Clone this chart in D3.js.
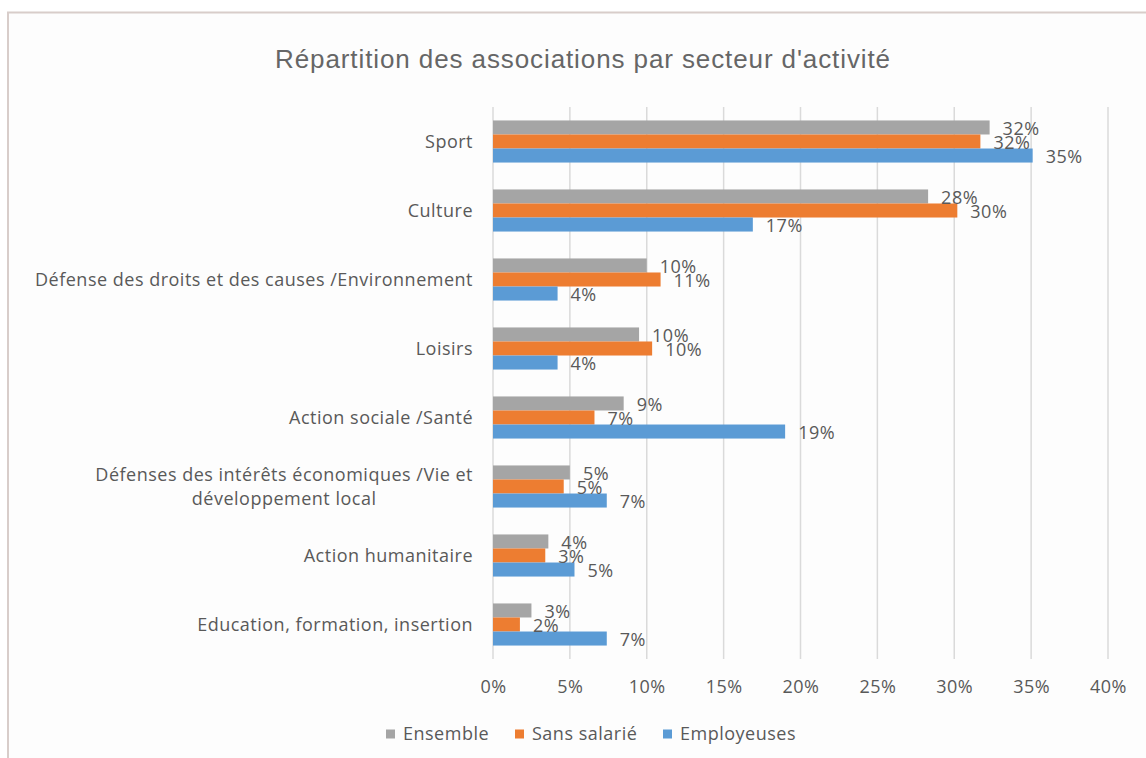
<!DOCTYPE html>
<html>
<head>
<meta charset="utf-8">
<script src="https://cdn.jsdelivr.net/npm/d3@7"></script>
<style>
  html, body { margin: 0; padding: 0; background: #ffffff; }
  svg text { fill: #595959; }
</style>
</head>
<body>
<div id="chart"></div>
<script>
// data
var categories = [
  "Sport",
  "Culture",
  "Défense des droits et des causes /Environnement",
  "Loisirs",
  "Action sociale /Santé",
  "Défenses des intérêts économiques /Vie et\ndéveloppement local",
  "Action humanitaire",
  "Education, formation, insertion"
];
var seriesNames = ["Ensemble", "Sans salarié", "Employeuses"];
var ensemble    = [32.3, 28.3, 10.0, 9.5, 8.5, 5.0, 3.6, 2.5];
var sansSalarie = [31.7, 30.2, 10.9, 10.35, 6.6, 4.6, 3.4, 1.75];
var employeuses = [35.1, 16.9, 4.2, 4.2, 19.0, 7.4, 5.3, 7.4];
var xTicks = [0, 5, 10, 15, 20, 25, 30, 35, 40];

var colors = ["#a5a5a5", "#ed7d31", "#5b9bd5"];
var allSeries = [ensemble, sansSalarie, employeuses];

var W = 1146, H = 758;
var margin = {left: 493, right: 38, top: 107, bottom: 99};

var svg = d3.select("#chart").append("svg")
  .attr("width", W).attr("height", H);

// frame
svg.append("rect").attr("x", 8).attr("y", 12).attr("width", W).attr("height", H)
  .attr("fill", "#fdfdfd");
svg.append("path").attr("d", "M8," + H + "V12.5H" + W)
  .attr("fill", "none").attr("stroke", "#d8cdca").attr("stroke-width", 2);

svg.append("text")
  .attr("x", 583).attr("y", 68)
  .attr("text-anchor", "middle")
  .style("font-family", "'Liberation Sans', Arial, sans-serif")
  .style("font-size", "26px")
  .style("letter-spacing", "0.9px")
  .style("fill", "#666666")
  .text("Répartition des associations par secteur d'activité");

var xScale = d3.scaleLinear().domain([0, 40]).range([margin.left, W - margin.right]);
var yScale = d3.scaleBand().domain(categories).range([margin.top, H - margin.bottom])
  .paddingInner(0.39).paddingOuter(0.195);
var inner = d3.scaleBand().domain(d3.range(3)).range([0, yScale.bandwidth()]);

var font = "'Open Sans', 'Noto Sans', sans-serif";
function txt(sel) {
  return sel.style("font-family", font).style("font-size", "18px")
    .style("letter-spacing", "0.5px").style("fill", "#595959");
}

// gridlines
svg.append("g").selectAll("line")
  .data(xTicks).enter().append("line")
  .attr("x1", function(d) { return xScale(d); })
  .attr("x2", function(d) { return xScale(d); })
  .attr("y1", margin.top).attr("y2", H - margin.bottom)
  .attr("stroke", "#dadada").attr("stroke-width", 1.5);

// x axis labels
var xAxis = d3.axisBottom(xScale).tickValues(xTicks)
  .tickFormat(function(d) { return d + "%"; }).tickSize(0).tickPadding(21);
var gx = svg.append("g")
  .attr("transform", "translate(0," + (H - margin.bottom) + ")")
  .call(xAxis);
gx.select(".domain").remove();
txt(gx.selectAll("text"));

// bars
var groups = svg.append("g").selectAll("g")
  .data(categories).enter().append("g")
  .attr("transform", function(d) { return "translate(0," + yScale(d) + ")"; });

groups.each(function(cat, i) {
  var g = d3.select(this);
  var rows = allSeries.map(function(s, k) { return {k: k, v: s[i]}; });
  g.selectAll("rect").data(rows).enter().append("rect")
    .attr("x", xScale(0))
    .attr("y", function(d) { return inner(d.k); })
    .attr("width", function(d) { return xScale(d.v) - xScale(0); })
    .attr("height", inner.bandwidth())
    .attr("fill", function(d) { return colors[d.k]; });
  txt(g.selectAll("text.val").data(rows).enter().append("text")
    .attr("class", "val")
    .attr("x", function(d) { return xScale(d.v) + 13; })
    .attr("y", function(d) { return inner(d.k) + inner.bandwidth() / 2 + 1; })
    .attr("dy", "0.35em"))
    .text(function(d) { return Math.round(d.v) + "%"; });
});

// category labels
var labelRight = margin.left - 20;
txt(svg.append("g").selectAll("text")
  .data(categories).enter().append("text"))
  .each(function(d) {
    var t = d3.select(this);
    var lines = d.split("\n");
    var cy = yScale(d) + yScale.bandwidth() / 2;
    if (lines.length == 1) {
      t.attr("x", labelRight).attr("y", cy).attr("dy", "0.35em")
        .attr("text-anchor", "end").text(d);
    } else {
      t.attr("text-anchor", "middle");
      var spans = lines.map(function(l, j) {
        return t.append("tspan").attr("y", cy + (j - (lines.length - 1) / 2) * 24)
          .attr("dy", "0.35em").text(l);
      });
      var w = spans[0].node().getComputedTextLength();
      spans.forEach(function(s) { s.attr("x", labelRight - w / 2); });
    }
  });

// legend
var legendX = [386, 515, 663];
var legend = svg.append("g").selectAll("g")
  .data(seriesNames).enter().append("g")
  .attr("transform", function(d, i) { return "translate(" + legendX[i] + ",734)"; });
legend.append("rect").attr("x", 0).attr("y", -4.5).attr("width", 9).attr("height", 9)
  .attr("fill", function(d, i) { return colors[i]; });
txt(legend.append("text").attr("x", 17).attr("y", 0).attr("dy", "0.35em"))
  .text(function(d) { return d; });
</script>
</body>
</html>
